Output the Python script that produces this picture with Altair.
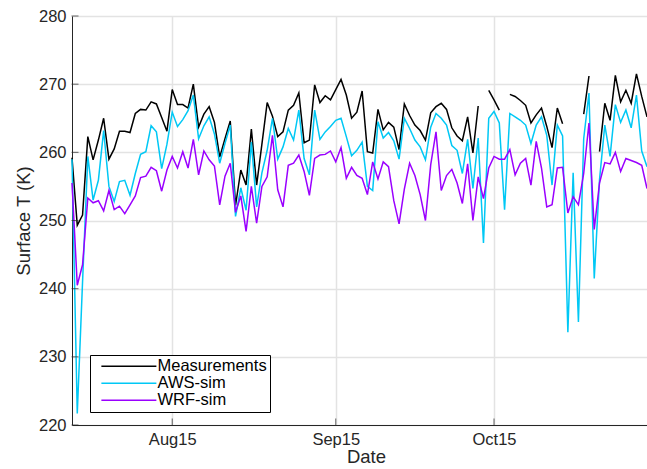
import altair as alt
import pandas as pd

# ---------------- data ----------------
start_date = "2018-07-27"
n_days = 110

measurements = [
    259.2, 249.3, 250.8, 262.3, 258.9, 261.8, 265.0, 259.0, 260.5, 263.1,
    263.1, 262.9, 265.7, 266.3, 266.2, 267.4, 267.1, 265.1, 263.1, 269.2,
    267.0, 267.0, 266.5, 270.0, 263.7, 265.6, 266.7, 264.4, 259.3, 262.0,
    264.6, 252.2, 257.4, 255.2, 263.4, 255.2, 261.2, 267.3, 265.3, 262.3,
    263.0, 266.2, 266.9, 268.7, 261.4, 261.8, 269.9, 267.3, 268.3, 267.7,
    269.2, 270.7, 268.4, 265.0, 265.9, 269.0, 260.1, 259.9, 266.3, 263.3,
    264.4, 263.7, 260.4, 267.1, 265.4, 264.0, 263.2, 261.8, 265.8, 266.7,
    267.2, 266.3, 263.6, 262.4, 261.7, 265.2, 259.9, 266.8, None, 269.1,
    267.7, 266.2, None, 268.5, 268.2, 267.6, 266.9, 264.3, 265.5, 266.5,
    263.8, 260.7, 266.5, 264.2, None, None, None, 265.6, 271.2, None,
    260.1, 267.2, 264.7, 271.3, 267.4, 269.1, 267.2, 271.5, 268.2, 265.2,
]

aws_sim = [
    259.0, 221.7, 241.0, 259.4, 253.0, 255.9, 263.2, 255.0, 252.8, 255.7,
    255.9, 253.7, 256.9, 259.7, 260.1, 263.9, 263.0, 257.6, 261.2, 265.9,
    263.8, 264.8, 266.1, 268.4, 262.0, 263.9, 265.2, 262.7, 258.4, 261.3,
    264.0, 250.6, 254.8, 251.5, 261.5, 252.0, 257.0, 260.3, 265.0, 259.0,
    260.8, 263.5, 261.8, 266.2, 259.1, 256.7, 266.2, 261.9, 263.0, 263.8,
    264.7, 265.0, 262.3, 259.5, 260.3, 261.5, 255.0, 254.4, 264.5, 262.1,
    262.9, 261.7, 259.0, 265.0, 263.5, 261.8, 260.8, 258.9, 263.7, 265.7,
    265.0, 264.0, 261.0, 260.3, 256.9, 261.9, 254.7, 262.1, 246.7, 265.0,
    266.0, 264.3, 251.6, 265.7, 265.2, 264.7, 264.0, 261.3, 264.0, 265.2,
    262.5, 255.2, 264.0, 262.4, 233.6, 257.0, 235.1, 262.0, 268.7, 241.5,
    256.0, 264.0, 259.4, 267.0, 264.4, 266.2, 263.6, 268.4, 260.2, 257.9,
]

wrf_sim = [
    255.5, 240.5, 243.5, 253.3, 252.6, 252.9, 251.4, 254.4, 251.6, 252.1,
    251.0, 252.3, 253.6, 256.3, 256.5, 257.8, 257.3, 254.3, 257.4, 259.4,
    257.7, 260.1, 257.7, 261.9, 256.7, 260.2, 258.9, 258.0, 252.3, 256.5,
    258.4, 251.2, 253.6, 248.4, 255.0, 249.6, 255.0, 256.4, 262.5, 254.5,
    252.0, 258.1, 258.4, 259.6, 257.2, 253.7, 259.1, 259.6, 259.7, 260.2,
    258.6, 260.7, 256.2, 257.8, 256.6, 256.2, 253.8, 258.6, 256.1, 258.6,
    257.9, 252.9, 249.5, 254.6, 258.4, 256.6, 253.8, 250.0, 258.2, 263.0,
    254.4, 256.6, 257.5, 255.5, 252.5, 258.3, 250.0, 256.4, 253.2, 257.7,
    259.4, 259.0, 259.0, 260.4, 256.7, 258.4, 259.1, 255.2, 261.6, 257.7,
    252.0, 252.3, 257.7, 257.8, 251.1, 253.5, 252.3, 256.9, 264.3, 248.7,
    255.5, 258.5, 258.3, 260.0, 257.2, 259.1, 258.8, 258.5, 258.1, 254.7,
]

series_names = ["Measurements", "AWS-sim", "WRF-sim"]
series_colors = ["#000000", "#00C8F5", "#9A00FF"]
y_ticks = [220, 230, 240, 250, 260, 270, 280]
x_tick_dates = ["2018-08-15T00:00:00", "2018-09-15T00:00:00", "2018-10-15T00:00:00"]

# ---------------- table ----------------
dates = pd.date_range(start_date, periods=n_days, freq="D").strftime("%Y-%m-%dT00:00:00")
rows = []
for name, vals in zip(series_names, [measurements, aws_sim, wrf_sim]):
    for d, v in zip(dates, vals):
        rows.append({"date": d, "value": v, "series": name})
df = pd.DataFrame(rows)

W, H = 575, 409
FONT = "Liberation Sans"
AX = "#262626"

x_enc = alt.X(
    "date:T",
    scale=alt.Scale(domain=[alt.DateTime(year=2018, month=7, date=27),
                            alt.DateTime(year=2018, month=11, date=13)]),
    axis=alt.Axis(
        values=[alt.DateTime(year=2018, month=8, date=15),
                alt.DateTime(year=2018, month=9, date=15),
                alt.DateTime(year=2018, month=10, date=15)],
        format="%b%d", title="Date", ticks=False, labelPadding=6,
        titlePadding=0, titleX=294,
    ),
)
y_enc = alt.Y(
    "value:Q",
    scale=alt.Scale(domain=[220, 280], nice=False, zero=False),
    axis=alt.Axis(values=y_ticks, title="Surface T (K)", ticks=False,
                  labelPadding=6, titlePadding=5),
)
# legend line symbol: asymmetric path so the line is long but the row stays short
sym_r = 6.875
color_enc = alt.Color(
    "series:N",
    scale=alt.Scale(domain=series_names, range=series_colors),
    legend=alt.Legend(
        title=None, orient="none", legendX=18, legendY=339,
        direction="vertical",
        symbolType="M-1,0H7", symbolSize=(2 * sym_r) ** 2, symbolStrokeWidth=1.5,
        labelFontSize=16.5, labelFont=FONT, labelColor="#000000",
        labelOffset=41, rowPadding=0,
        strokeColor="#000000", fillColor="#FFFFFF", padding=3,
        symbolOffset=7,
        cornerRadius=0,
    ),
)

layers = []
for name in series_names:
    layers.append(
        alt.Chart(df)
        .transform_filter(alt.datum.series == name)
        .mark_line(strokeWidth=1.5)
        .encode(x=x_enc, y=y_enc, color=color_enc)
    )

ytick_layer = alt.Chart(pd.DataFrame({"v": y_ticks})).mark_tick(
    orient="horizontal", size=7, thickness=1, color=AX
).encode(y=alt.Y("v:Q", scale=alt.Scale(domain=[220, 280], nice=False, zero=False)),
         x=alt.value(3))

xtick_layer = alt.Chart(pd.DataFrame({"d": x_tick_dates})).mark_tick(
    orient="vertical", size=7, thickness=1, color=AX
).encode(x=alt.X("d:T"), y=alt.value(H - 3))

chart = (
    alt.layer(*layers, ytick_layer, xtick_layer)
    .properties(
        width=W, height=H,
        padding={"left": 72, "top": 16, "right": 0, "bottom": 44},
        autosize=alt.AutoSizeParams(type="none"),
        background="#FFFFFF",
    )
    .configure_view(strokeWidth=0)
    .configure_axis(
        labelFont=FONT, titleFont=FONT, labelFontSize=16.5, titleFontSize=18.5,
        labelColor=AX, titleColor=AX, titleFontWeight="normal",
        domainColor=AX, domainWidth=1,
        gridColor="#E3E3E3", gridWidth=1.5,
    )
)

chart.save("out.html", embed_options={"renderer": "svg", "actions": False})
